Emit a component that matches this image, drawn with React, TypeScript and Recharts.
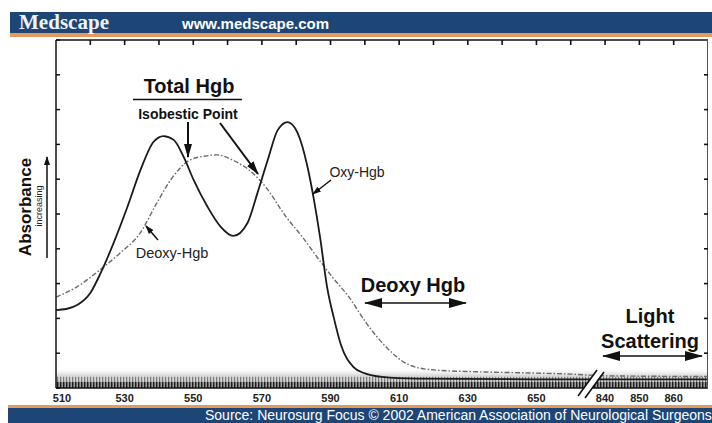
import React from 'react';
import { LineChart, Line, XAxis, YAxis, ReferenceArea, ReferenceLine } from 'recharts';

// Oxy-Hgb absorbance (solid curve)
const oxyWavelength = [510, 513, 516.3, 520, 523, 526.8, 530.8, 534.6, 538.4, 541.3, 544.3, 547.2, 550.1, 554.2, 558, 561.7, 565.8, 568.7, 571.7, 574.6, 577.5, 580.4, 583.3, 585, 587, 589, 591, 593, 596.7, 600, 605, 615, 650, 660, 840, 870];
const oxyAbsorbance = [2.24, 2.27, 2.39, 2.73, 3.3, 4.17, 5.2, 6.26, 7.07, 7.24, 7.13, 6.64, 5.98, 5.2, 4.63, 4.37, 4.74, 5.6, 6.55, 7.41, 7.64, 7.33, 6.35, 5.5, 4.3, 2.9, 2.0, 1.25, 0.6, 0.42, 0.32, 0.27, 0.25, 0.25, 0.25, 0.25];

// Deoxy-Hgb absorbance (dashed curve)
const deoxyWavelength = [510, 516, 522, 528.7, 534.5, 539.4, 544, 549, 553.9, 556.8, 561.5, 567.3, 571.3, 577.1, 581.8, 586.7, 590.5, 595.4, 600.4, 606.2, 613, 620, 635, 649, 660, 840, 870];
const deoxyAbsorbance = [2.61, 2.9, 3.33, 3.88, 4.45, 5.32, 6.06, 6.55, 6.67, 6.7, 6.55, 6.18, 5.75, 4.91, 4.34, 3.68, 3.19, 2.61, 1.87, 1.18, 0.66, 0.52, 0.46, 0.43, 0.4, 0.35, 0.33];

const labelTicks = [510, 530, 550, 570, 590, 610, 630, 650, 840, 850, 860];
const minorTicks = [520, 530, 540, 550, 560, 570, 580, 590, 600, 610, 620, 630, 640, 650, 660, 840, 850, 860];
const yTicks = [0, 1, 2, 3, 4, 5, 6, 7, 8, 9, 10];

// the axis jumps from 660 to 840 nm
const BREAK_SHIFT = 170;
const toAxis = (wl: number) => (wl >= 800 ? wl - BREAK_SHIFT : wl);
const fromAxis = (v: number) => (v > 665 ? v + BREAK_SHIFT : v);
const X_MIN = 510;
const X_MAX = 700;
const Y_MAX = 10;

const oxyData = oxyWavelength.map((w, i) => ({ x: toAxis(w), a: oxyAbsorbance[i] }));
const deoxyData = deoxyWavelength.map((w, i) => ({ x: toAxis(w), a: deoxyAbsorbance[i] }));

const W = 712;
const H = 423;
const MARGIN = { top: 40, right: 4, bottom: 5, left: 56 };
const X_AXIS_H = 30;
const PLOT_W = W - MARGIN.left - MARGIN.right;
const PLOT_H = H - MARGIN.top - MARGIN.bottom - X_AXIS_H;
// same linear mapping as the chart, used only for the frame ticks on top and right
const framePx = (v: number) => MARGIN.left + ((v - X_MIN) / (X_MAX - X_MIN)) * PLOT_W;
const framePy = (v: number) => MARGIN.top + (1 - v / Y_MAX) * PLOT_H;

const FONT = '"Liberation Sans", Arial, Helvetica, sans-serif';
const NAVY = '#1d4676';
const ORANGE = '#e59a5c';
const noLabel = () => '';

const BottomTick = (props: any) => {
    const { x, y, payload } = props;
    const label = fromAxis(payload.value);
    return (
        <text x={x + (label === 510 ? 6 : 0)} y={y} dy="0.71em" textAnchor="middle"
            fontFamily={FONT} fontSize={11} fontWeight="bold" fill="#222">
            {label}
        </text>
    );
};

const App = () => {
    const rightX = framePx(X_MAX);
    return (
        <div style={{ position: 'absolute', left: 0, top: 0, width: W, height: H, background: '#fff' }}>
            <svg width={0} height={0} style={{ position: 'absolute' }}>
                <defs>
                    <pattern id="hatchDark" patternUnits="userSpaceOnUse" width={3} height={20}>
                        <rect width={3} height={20} fill="#9a9a9a" />
                        <rect width={1.4} height={20} fill="#1e1e1e" />
                    </pattern>
                    <pattern id="hatchLight" patternUnits="userSpaceOnUse" width={3} height={20}>
                        <rect width={3} height={20} fill="#d6d6d6" />
                        <rect width={1.2} height={20} fill="#7a7a7a" />
                    </pattern>
                    <linearGradient id="fade" x1="0" y1="0" x2="0" y2="1">
                        <stop offset="0%" stopColor="#ffffff" stopOpacity={0} />
                        <stop offset="100%" stopColor="#c8c8c8" stopOpacity={0.9} />
                    </linearGradient>
                    <marker id="head" viewBox="0 0 14 8" refX={13} refY={4} markerUnits="userSpaceOnUse"
                        markerWidth={14} markerHeight={8} orient="auto-start-reverse">
                        <path d="M0,0 L14,4 L0,8 z" fill="#111" />
                    </marker>
                    <marker id="bigHead" viewBox="0 0 18 10" refX={17} refY={5} markerUnits="userSpaceOnUse"
                        markerWidth={18} markerHeight={10} orient="auto-start-reverse">
                        <path d="M0,0 L18,5 L0,10 z" fill="#111" />
                    </marker>
                    <marker id="smallHead" viewBox="0 0 9 6" refX={8} refY={3} markerUnits="userSpaceOnUse"
                        markerWidth={9} markerHeight={6} orient="auto-start-reverse">
                        <path d="M0,0 L9,3 L0,6 z" fill="#111" />
                    </marker>
                </defs>
            </svg>

            <LineChart width={W} height={H} margin={MARGIN} style={{ position: 'absolute', left: 0, top: 0 }}>
                <XAxis dataKey="x" type="number" domain={[X_MIN, X_MAX]} allowDataOverflow
                    ticks={labelTicks.map(toAxis)} tick={<BottomTick />} tickLine={false} tickSize={0}
                    tickMargin={6} height={X_AXIS_H} axisLine={{ stroke: '#111', strokeWidth: 1.5 }} />
                <YAxis type="number" domain={[0, Y_MAX]} ticks={yTicks} mirror tickFormatter={noLabel} tickSize={4}
                    tickLine={{ stroke: '#111', strokeWidth: 1.5 }} axisLine={{ stroke: '#111', strokeWidth: 1.5 }} />
                <ReferenceLine y={Y_MAX} stroke="#111" strokeWidth={1.5} ifOverflow="visible" />

                <ReferenceArea x1={X_MIN} x2={X_MAX} y1={0.32} y2={0.6} fill="url(#fade)" fillOpacity={1} stroke="none" />
                <Line data={deoxyData} dataKey="a" type="monotone" stroke="#6a6a6a" strokeWidth={1.4}
                    strokeDasharray="5 2 1.5 2" dot={false} isAnimationActive={false} />
                <Line data={oxyData} dataKey="a" type="monotone" stroke="#1a1a1a" strokeWidth={1.8}
                    dot={false} isAnimationActive={false} />
                <ReferenceArea x1={X_MIN} x2={X_MAX} y1={0.18} y2={0.32} fill="url(#hatchLight)" fillOpacity={1} stroke="none" />
                <ReferenceArea x1={X_MIN} x2={X_MAX} y1={0} y2={0.18} fill="url(#hatchDark)" fillOpacity={1} stroke="none" />
            </LineChart>

            <svg width={W} height={H} style={{ position: 'absolute', left: 0, top: 0, pointerEvents: 'none' }}>
                {/* top and right frame ticks, pointing inward */}
                {minorTicks.map((t) => (
                    <line key={`t${t}`} x1={framePx(toAxis(t))} x2={framePx(toAxis(t))} y1={MARGIN.top}
                        y2={MARGIN.top + 5} stroke="#111" strokeWidth={1.6} />
                ))}
                <line x1={rightX - 0.5} x2={rightX - 0.5} y1={MARGIN.top} y2={MARGIN.top + PLOT_H} stroke="#555" strokeWidth={1} />
                {yTicks.slice(1, -1).map((t) => (
                    <line key={`r${t}`} x1={rightX - 4} x2={rightX} y1={framePy(t)} y2={framePy(t)}
                        stroke="#111" strokeWidth={1.6} />
                ))}

                {/* header */}
                <rect x={10} y={12} width={702} height={21} fill={NAVY} />
                <rect x={10} y={33} width={702} height={4} fill={ORANGE} />
                <text x={19} y={29} fontFamily='"Liberation Serif", "Times New Roman", serif' fontSize={20}
                    fontWeight="bold" fill="#eef3fa" textLength={90} lengthAdjust="spacingAndGlyphs">Medscape</text>
                <text x={182} y={29} fontFamily={FONT} fontSize={15} fontWeight="bold" fill="#ffffff">www.medscape.com</text>

                {/* footer */}
                <rect x={8} y={405} width={704} height={3} fill={ORANGE} />
                <rect x={8} y={408} width={704} height={15} fill={NAVY} />
                <text x={205} y={420} fontFamily={FONT} fontSize={14} fill="#ffffff">
                    Source: Neurosurg Focus © 2002 American Association of Neurological Surgeons
                </text>

                {/* axis break */}
                <polygon points="579,396 597,370 603,372 585,398" fill="#fff" />
                <line x1={578} y1={396} x2={597} y2={370} stroke="#111" strokeWidth={1.6} />
                <line x1={585} y1={398} x2={604} y2={372} stroke="#111" strokeWidth={1.6} />

                {/* y axis title */}
                <text transform="translate(31,207) rotate(-90)" textAnchor="middle" fontFamily={FONT}
                    fontSize={17} fontWeight="bold" fill="#111">Absorbance</text>
                <text transform="translate(42,206) rotate(-90)" textAnchor="middle" fontFamily={FONT}
                    fontSize={9} fill="#222">increasing</text>
                <line x1={47} y1={258} x2={47} y2={157} stroke="#111" strokeWidth={1.5} markerEnd="url(#smallHead)" />

                {/* Total Hgb / isobestic points */}
                <text x={189} y={93} textAnchor="middle" fontFamily={FONT} fontSize={20} fontWeight="bold" fill="#111">Total Hgb</text>
                <line x1={133} y1={99.5} x2={242} y2={99.5} stroke="#111" strokeWidth={1.5} />
                <text x={188} y={119} textAnchor="middle" fontFamily={FONT} fontSize={14} fontWeight="bold" fill="#111">Isobestic Point</text>
                <line x1={188} y1={122} x2={188} y2={157} stroke="#111" strokeWidth={2} markerEnd="url(#head)" />
                <line x1={220} y1={123} x2={258} y2={174} stroke="#111" strokeWidth={2} markerEnd="url(#head)" />

                {/* curve labels */}
                <text x={357} y={177} textAnchor="middle" fontFamily={FONT} fontSize={14} fill="#222">Oxy-Hgb</text>
                <line x1={331} y1={180} x2={313} y2={194} stroke="#111" strokeWidth={1.5} markerEnd="url(#smallHead)" />
                <text x={172} y={258} textAnchor="middle" fontFamily={FONT} fontSize={14.5} fill="#222">Deoxy-Hgb</text>
                <line x1={158} y1={240} x2={146} y2={226} stroke="#111" strokeWidth={1.5} markerEnd="url(#smallHead)" />

                {/* regions */}
                <text x={413} y={292} textAnchor="middle" fontFamily={FONT} fontSize={20} fontWeight="bold" fill="#111">Deoxy Hgb</text>
                <line x1={365} y1={303} x2={466} y2={303} stroke="#111" strokeWidth={1.6}
                    markerStart="url(#bigHead)" markerEnd="url(#bigHead)" />
                <text x={650} y={323} textAnchor="middle" fontFamily={FONT} fontSize={20} fontWeight="bold" fill="#111">Light</text>
                <text x={650} y={348} textAnchor="middle" fontFamily={FONT} fontSize={20} fontWeight="bold" fill="#111">Scattering</text>
                <line x1={603} y1={356} x2={702} y2={356} stroke="#111" strokeWidth={1.6}
                    markerStart="url(#bigHead)" markerEnd="url(#bigHead)" />
            </svg>
        </div>
    );
};

export default App;
